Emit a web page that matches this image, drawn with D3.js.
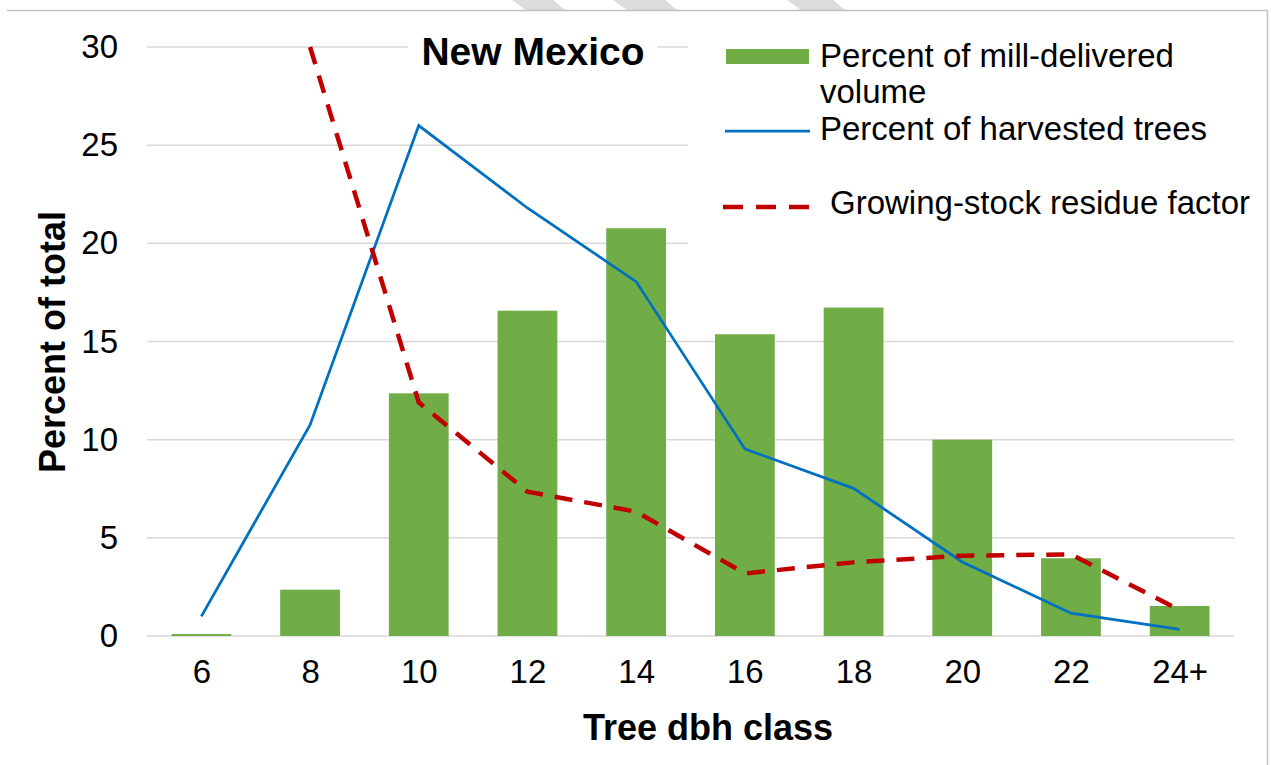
<!DOCTYPE html>
<html>
<head>
<meta charset="utf-8">
<script src="https://cdn.jsdelivr.net/npm/d3@7"></script>
<style>
    body { margin: 0; background: #fff; }
    text { font-family: "Liberation Sans", Arial, sans-serif; fill: #000; }
</style>
</head>
<body>
<div id="chart"></div>
<script>
// Daten
const classes = ["6", "8", "10", "12", "14", "16", "18", "20", "22", "24+"];
const millVolume = [0.1, 2.36, 12.36, 16.57, 20.77, 15.37, 16.73, 10.0, 3.96, 1.53];
const harvestedTrees = [1.0, 10.75, 26.0, 21.8, 18.05, 9.53, 7.52, 3.77, 1.16, 0.34];
const residueFactor = [null, 30.0, 11.9, 7.35, 6.33, 3.19, 3.75, 4.09, 4.16, 1.32];
const yTicks = [0, 5, 10, 15, 20, 25, 30];

const width = 1271;
const height = 765;
const plot = {left: 147, right: 1234, top: 47, bottom: 636};

const svg = d3.select("#chart")
    .append("svg")
    .attr("width", width)
    .attr("height", height);

// Hintergrund-Streifen oben (Wasserzeichen)
const stripes = [[512, 553], [613, 665], [787, 833]];
svg.append("g")
    .selectAll("polygon")
    .data(stripes)
    .join("polygon")
    .attr("points", d => `${d[0]},0 ${d[1]},0 ${d[1] + 12},10 ${d[0] + 14},10`)
    .attr("fill", "#dcdcdc");

// Rahmen
svg.append("path")
    .attr("d", `M7,10.5 H1267.5 V${height}`)
    .attr("fill", "none")
    .attr("stroke", "#c0c0c0")
    .attr("stroke-width", 1.5);

const x = d3.scaleBand()
    .domain(classes)
    .range([plot.left, plot.right])
    .paddingInner(0.45)
    .paddingOuter(0.225);

const xc = d3.scalePoint()
    .domain(classes)
    .range([plot.left, plot.right])
    .padding(0.5);

const y = d3.scaleLinear()
    .domain([0, 30])
    .range([plot.bottom, plot.top]);

// Gitterlinien
svg.append("g")
    .selectAll("line")
    .data(yTicks)
    .join("line")
    .attr("x1", plot.left)
    .attr("x2", plot.right)
    .attr("y1", d => y(d))
    .attr("y2", d => y(d))
    .attr("stroke", "#d9d9d9")
    .attr("stroke-width", 1.5);

// Y-Achse
const yAxis = svg.append("g")
    .attr("transform", `translate(${plot.left},0)`)
    .call(d3.axisLeft(y).tickValues(yTicks).tickSize(0).tickPadding(29));
yAxis.select(".domain").remove();
yAxis.selectAll("text")
    .attr("font-size", 33)
    .attr("fill", "#111")
    .attr("font-family", "Liberation Sans, Arial, sans-serif");

// X-Achse
const xAxis = svg.append("g")
    .attr("transform", `translate(0,${plot.bottom})`)
    .call(d3.axisBottom(xc).tickSize(0).tickPadding(24));
xAxis.select(".domain").remove();
xAxis.selectAll("text")
    .attr("font-size", 33)
    .attr("fill", "#111")
    .attr("font-family", "Liberation Sans, Arial, sans-serif");

// Weisse Flaechen hinter Titel und Legende
svg.append("rect")
    .attr("x", 408).attr("y", 28)
    .attr("width", 249).attr("height", 44)
    .attr("fill", "#fff");
svg.append("rect")
    .attr("x", 688).attr("y", 28)
    .attr("width", 570).attr("height", 222)
    .attr("fill", "#fff");

// Balken
svg.append("g")
    .selectAll("rect")
    .data(millVolume)
    .join("rect")
    .attr("x", (d, i) => x(classes[i]))
    .attr("y", d => y(d))
    .attr("width", x.bandwidth())
    .attr("height", d => y(0) - y(d))
    .attr("fill", "#70ad47");

const line = d3.line()
    .defined(d => d.v !== null)
    .x(d => xc(d.c))
    .y(d => y(d.v));

svg.append("path")
    .datum(classes.map((c, i) => ({c: c, v: harvestedTrees[i]})))
    .attr("d", line)
    .attr("fill", "none")
    .attr("stroke", "#0070c0")
    .attr("stroke-width", 2.75);

svg.append("path")
    .datum(classes.map((c, i) => ({c: c, v: residueFactor[i]})))
    .attr("d", line)
    .attr("fill", "none")
    .attr("stroke", "#c00000")
    .attr("stroke-width", 4.5)
    .attr("stroke-dasharray", "18,12");

// Titel
svg.append("text")
    .attr("x", 533)
    .attr("y", 65)
    .attr("text-anchor", "middle")
    .attr("font-size", 39)
    .attr("font-weight", "bold")
    .text("New Mexico");

// Achsentitel
svg.append("text")
    .attr("x", 708)
    .attr("y", 740)
    .attr("text-anchor", "middle")
    .attr("font-size", 36)
    .attr("font-weight", "bold")
    .text("Tree dbh class");

svg.append("text")
    .attr("transform", "translate(65,342) rotate(-90)")
    .attr("text-anchor", "middle")
    .attr("font-size", 36)
    .attr("font-weight", "bold")
    .text("Percent of total");

// Legende
const legend = svg.append("g");
legend.append("rect")
    .attr("x", 726).attr("y", 49)
    .attr("width", 83).attr("height", 15)
    .attr("fill", "#70ad47");
legend.append("line")
    .attr("x1", 725).attr("x2", 810)
    .attr("y1", 131).attr("y2", 131)
    .attr("stroke", "#0070c0")
    .attr("stroke-width", 2.75);
legend.append("line")
    .attr("x1", 723).attr("x2", 810)
    .attr("y1", 207).attr("y2", 207)
    .attr("stroke", "#c00000")
    .attr("stroke-width", 4.5)
    .attr("stroke-dasharray", "20,13");

const legendText = [
    {t: "Percent of mill-delivered", x: 820, y: 67},
    {t: "volume", x: 820, y: 103},
    {t: "Percent of harvested trees", x: 820, y: 140},
    {t: "Growing-stock residue factor", x: 830, y: 214}
];
legend.selectAll("text.lbl")
    .data(legendText)
    .join("text")
    .attr("class", "lbl")
    .attr("x", d => d.x)
    .attr("y", d => d.y)
    .attr("font-size", 33)
    .text(d => d.t);
</script>
</body>
</html>
